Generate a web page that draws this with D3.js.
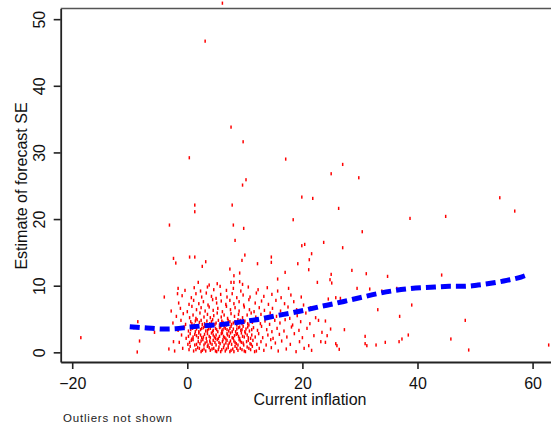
<!DOCTYPE html>
<html lang="en">
<head>
    <meta charset="UTF-8">
    <title>Forecast SE vs current inflation</title>
    <style>
        body { margin: 0; background: #fff; }
        svg { display: block; font-family: "Liberation Sans", Arial, sans-serif; }
        .axis path, .axis line { stroke: #222; }
        .axis text { fill: #111; font-size: 16px; }
    </style>
</head>
<body>
    <svg id="chart" width="551" height="425"></svg>

    <script src="https://d3js.org/d3.v7.min.js"></script>
    <script>
        // tick labels
        const xTicks = [-20, 0, 20, 40, 60];
        const yTicks = [0, 10, 20, 30, 40, 50];

        // scattered points read one by one [inflation, SE]
        const outerPoints = [
            [6.1,52.4],[3.1,46.7],[7.6,33.8],[9.7,31.6],[0.35,29.2],[17.1,29.0],[27.0,28.2],
            [25.0,26.8],[29.8,26.2],[10.2,25.9],[9.6,25.1],[19.9,23.3],[21.8,23.1],[1.3,22.1],
            [7.8,22.1],[26.3,21.6],[1.3,21.1],[54.3,23.2],[56.9,21.2],[44.9,20.4],[38.7,20.1],
            [30.4,18.1],[23.7,16.5],[27.0,15.7],[28.6,12.3],[25.0,11.7],[31.1,11.8],[34.8,11.4],
            [44.2,11.6],[24.8,10.9],[25.1,10.4],[29.5,9.6],[31.7,9.5],[36.4,9.6],[33.8,9.2],
            [39.0,9.7],[24.5,8.0],[25.8,8.2],[26.6,8.1],[39.0,7.1],[33.1,6.4],[36.9,5.4],
            [48.3,4.8],[24.0,4.7],[24.9,3.5],[27.3,3.4],[23.4,3.0],[24.3,2.5],[30.9,2.4],
            [38.4,2.6],[37.3,2.0],[45.8,2.0],[23.2,1.6],[24.0,1.5],[36.8,1.6],[34.4,1.5],
            [25.8,1.3],[30.9,1.3],[26.0,1.0],[31.2,1.0],[32.8,1.1],[26.4,0.45],[48.9,0.35],
            [62.8,1.1],[-3.1,19.1],[8.0,19.1],[9.8,18.6],[18.4,19.9],[8.3,16.8],[20.4,16.2],
            [19.9,16.0],[21.6,14.8],[-2.4,14.1],[0.4,14.3],[1.3,14.3],[10.0,14.6],[14.6,14.3],
            [-2.0,13.4],[3.2,13.6],[9.5,13.8],[14.6,13.5],[21.2,13.9],[2.6,12.9],[12.2,13.3],
            [19.2,13.3],[7.4,12.5],[21.1,12.4],[9.1,11.9],[17.0,12.0],[8.1,11.5],[15.7,11.0],
            [1.9,10.5],[7.6,10.5],[8.1,10.5],[9.1,10.6],[5.2,10.3],[3.8,10.1],[9.6,10.2],
            [22.6,10.5],[-8.6,4.6],[-18.5,2.2],[-8.3,1.7],[-8.7,0.05],[-5.7,3.0],[-9.3,3.7],
            [-4.0,8.3],[-1.6,9.6],[-1.7,8.8],[-3.2,0.5],[-2.4,1.6]
        ];

        // dense cluster [inflation, SE]
        const densePoints = [
            [0.3,0.4],[1.1,0.2],[1.8,0.7],[2.4,0.1],[2.9,0.5],[3.5,0.9],[4.0,0.3],[4.6,0.6],[5.1,0.1],[5.5,0.8],
            [6.0,0.4],[6.6,0.2],[7.1,0.7],[7.4,0.1],[7.9,0.5],[8.3,0.9],[8.8,0.3],[9.2,0.6],[9.9,0.2],[10.4,0.8],
            [11.0,0.4],[11.7,0.1],[12.5,0.6],[13.3,0.3],[14.6,0.7],[15.8,0.2],[17.2,0.5],[18.9,0.1],[20.3,0.6],[21.6,0.3],
            [-0.8,0.6],[-2.2,0.2],
            [-1.4,1.5],[0.1,1.2],[0.7,1.8],[1.3,1.1],[1.9,1.6],[2.2,1.3],[2.7,1.9],[3.1,1.4],[3.6,1.1],[3.9,1.7],
            [4.3,1.2],[4.8,1.5],[5.2,1.9],[5.7,1.3],[6.1,1.6],[6.4,1.1],[6.9,1.8],[7.3,1.4],[7.7,1.2],[8.1,1.7],
            [8.5,1.3],[9.0,1.9],[9.4,1.5],[9.8,1.1],[10.3,1.6],[10.9,1.3],[11.4,1.8],[12.1,1.2],[12.8,1.6],[13.7,1.1],
            [14.5,1.9],[15.3,1.4],[16.4,1.7],[17.9,1.2],[19.5,1.6],[21.1,1.0],
            [-1.0,2.6],[-0.2,2.1],[0.5,2.8],[1.0,2.3],[1.6,2.5],[2.0,2.9],[2.5,2.2],[3.0,2.7],[3.3,2.1],[3.8,2.4],
            [4.2,2.9],[4.7,2.3],[5.0,2.6],[5.4,2.1],[5.9,2.8],[6.3,2.4],[6.7,2.0],[7.0,2.6],[7.5,2.9],[7.8,2.2],
            [8.2,2.5],[8.7,2.8],[9.1,2.1],[9.6,2.4],[10.1,2.9],[10.6,2.2],[11.2,2.6],[11.8,2.3],[12.4,2.8],[13.1,2.2],
            [14.0,2.6],[14.9,2.1],[16.0,2.7],[17.3,2.3],[18.6,2.8],[20.0,2.2],[22.0,2.5],
            [-1.6,3.3],[-0.5,3.8],[0.2,3.2],[0.9,3.6],[1.4,3.1],[1.8,3.9],[2.3,3.4],[2.8,3.7],[3.2,3.2],[3.7,3.5],
            [4.1,3.9],[4.5,3.3],[4.9,3.6],[5.3,3.1],[5.8,3.8],[6.2,3.4],[6.6,3.6],[7.2,3.2],[7.6,3.9],[8.0,3.5],
            [8.4,3.1],[8.9,3.7],[9.3,3.3],[9.7,3.9],[10.2,3.5],[10.8,3.2],[11.5,3.7],[12.2,3.3],[12.9,3.9],[13.8,3.4],
            [14.7,3.1],[15.6,3.6],[16.8,3.2],[18.1,3.8],[19.4,3.3],[20.8,3.6],
            [-2.5,4.4],[-1.1,4.8],[-0.3,4.2],[0.6,4.6],[1.2,4.1],[1.7,4.9],[2.1,4.5],[2.6,4.2],[3.4,4.7],[3.9,4.3],
            [4.4,4.9],[5.0,4.4],[5.6,4.1],[6.0,4.7],[6.5,4.3],[7.1,4.8],[7.7,4.2],[8.3,4.6],[8.8,4.9],[9.5,4.3],
            [10.0,4.7],[10.7,4.1],[11.3,4.5],[12.0,4.9],[12.7,4.3],[13.5,4.7],[14.3,4.2],[15.2,4.8],[16.1,4.4],[17.0,4.9],
            [18.3,4.1],[19.7,4.6],[21.3,4.3],[22.8,4.8],
            [-1.9,5.4],[-0.7,5.8],[0.4,5.2],[1.0,5.6],[1.5,5.1],[2.2,5.9],[2.9,5.3],[3.5,5.7],[4.0,5.2],[4.6,5.5],
            [5.2,5.9],[5.9,5.3],[6.4,5.6],[7.0,5.1],[7.6,5.8],[8.2,5.4],[8.9,5.7],[9.6,5.2],[10.4,5.6],[11.1,5.9],
            [11.9,5.3],[12.8,5.7],[13.6,5.2],[14.4,5.9],[15.5,5.4],[16.6,5.8],[17.8,5.1],[19.1,5.5],[20.6,5.9],[22.3,5.2],
            [-2.8,6.2],[-1.2,6.6],[0.0,6.1],[0.8,6.9],[1.6,6.4],[2.4,6.7],[3.1,6.2],[3.8,6.8],[4.5,6.3],[5.3,6.6],
            [6.1,6.1],[6.8,6.9],[7.5,6.4],[8.3,6.7],[9.0,6.2],[9.9,6.8],[10.8,6.4],[11.6,6.1],[12.5,6.7],[13.4,6.3],
            [14.8,6.6],[16.2,6.2],[17.5,6.8],[19.0,6.4],[21.4,6.7],
            [-1.5,7.4],[0.3,7.2],[1.1,7.8],[2.0,7.3],[2.8,7.6],[3.6,7.1],[4.4,7.9],[5.1,7.4],[5.9,7.7],[6.7,7.2],
            [7.4,7.8],[8.1,7.3],[9.0,7.6],[9.8,7.1],[10.7,7.9],[11.8,7.4],[12.9,7.7],[14.1,7.2],[15.4,7.8],[16.9,7.3],
            [18.5,7.6],[20.2,7.1],
            [-0.9,8.5],[0.7,8.2],[1.5,8.8],[2.5,8.3],[3.3,8.9],[4.2,8.4],[5.0,8.1],[5.8,8.7],[6.9,8.3],[7.8,8.8],
            [8.6,8.2],[9.7,8.6],[10.9,8.3],[12.0,8.9],[13.3,8.4],[14.7,8.7],[16.3,8.2],[18.0,8.6],[19.8,8.3],
            [-0.4,9.3],[1.2,9.7],[2.3,9.2],[3.5,9.8],[4.6,9.4],[5.7,9.9],[6.8,9.3],[8.0,9.6],[9.3,9.2],[10.6,9.8],
            [12.3,9.4],[13.9,9.7],[15.7,9.2],[17.6,9.6],
            [0.5,0.9],[1.5,0.4],[2.1,0.6],[2.6,0.3],[3.2,0.2],[3.8,0.7],[4.3,0.5],[4.9,0.2],[5.4,0.4],[5.8,0.1],
            [6.3,0.7],[6.8,0.5],[7.6,0.3],[8.1,0.1],[8.6,0.6],[9.5,0.4],[10.1,0.1],[10.7,0.6],[11.3,0.9],[12.0,0.2],
            [0.4,1.5],[1.0,1.9],[1.6,1.2],[2.4,1.7],[2.9,1.1],[3.4,1.6],[4.0,1.4],[4.5,1.8],[5.0,1.1],[5.5,1.5],
            [6.2,1.9],[6.7,1.4],[7.1,1.1],[7.5,1.7],[8.3,1.5],[8.8,1.1],[9.2,1.7],[9.7,1.4],[10.6,1.8],[11.1,1.2],
            [0.2,2.4],[0.8,2.0],[1.3,2.7],[1.9,2.2],[2.3,2.6],[2.8,2.3],[3.5,2.8],[4.0,2.2],[4.5,2.6],[4.9,2.1],
            [5.6,2.4],[6.1,2.9],[6.5,2.2],[6.9,2.8],[7.3,2.4],[8.0,2.1],[8.5,2.7],[8.9,2.4],[9.4,2.9],[9.9,2.3],
            [10.4,2.6],[11.0,2.1],
            [0.6,3.4],[1.2,3.8],[1.6,3.5],[2.0,3.1],[2.5,3.6],[3.0,3.9],[3.5,3.3],[4.0,3.6],[4.4,3.1],[5.1,3.4],
            [5.6,3.7],[6.0,3.2],[6.4,3.8],[6.9,3.4],[7.4,3.6],[7.8,3.1],[8.6,3.5],[9.1,3.8],[9.5,3.4],[10.0,3.1],
            [10.5,3.8],[11.2,3.4],
            [0.8,4.3],[1.4,4.7],[2.4,4.8],[3.0,4.3],[3.6,4.1],[4.2,4.6],[4.8,4.2],[5.4,4.8],[6.2,4.5],[6.8,4.1],
            [7.4,4.6],[8.0,4.4],[8.6,4.1],[9.2,4.8],[9.8,4.5],[10.5,4.3]
        ];

        // smoothed fit (blue dashed)
        const smoothX = [-10, -7, -4, -2, 0, 3, 5.5, 8, 10.5, 13, 15.5, 18, 20.5, 23, 25.5, 28, 30.5,
                         33, 35.5, 38, 40.5, 43, 45.5, 48, 50.5, 53, 55.5, 58, 59];
        const smoothY = [3.85, 3.65, 3.5, 3.55, 3.75, 4.0, 4.15, 4.4, 4.7, 5.05, 5.5, 5.9, 6.35, 6.85, 7.3,
                         7.8, 8.3, 8.8, 9.2, 9.5, 9.7, 9.8, 9.9, 9.9, 10.1, 10.4, 10.8, 11.3, 11.6];

        const svg = d3.select('#chart');
        const plotLeft = 60.7, plotTop = 8.5, plotBottom = 362, plotRight = 551;

        const x = d3.scaleLinear().domain([-22, 63.2]).range([plotLeft, plotRight]);
        const y = d3.scaleLinear().domain([-1.45, 51.6]).range([plotBottom, plotTop]);

        // top border of the plot region
        svg.append('line')
            .attr('x1', plotLeft).attr('x2', plotRight)
            .attr('y1', plotTop).attr('y2', plotTop)
            .attr('stroke', '#555').attr('stroke-width', 1.5);

        // points
        const pts = outerPoints.concat(densePoints);
        svg.append('g').selectAll('rect')
            .data(pts)
            .join('rect')
            .attr('x', d => x(d[0]) - 0.75)
            .attr('y', d => y(d[1]) - 1.6)
            .attr('width', 1.5)
            .attr('height', 3.2)
            .attr('fill', '#f00');

        // smoothed line
        const line = d3.line()
            .x((d, i) => x(smoothX[i]))
            .y(d => y(d))
            .curve(d3.curveMonotoneX);

        svg.append('path')
            .datum(smoothY)
            .attr('d', line)
            .attr('fill', 'none')
            .attr('stroke', '#0000ff')
            .attr('stroke-width', 5)
            .attr('stroke-dasharray', '10,5');

        // axes
        const yAxis = svg.append('g')
            .attr('class', 'axis')
            .attr('transform', `translate(${plotLeft},0)`)
            .call(d3.axisLeft(y).tickValues(yTicks).tickSize(7).tickSizeOuter(0));
        yAxis.select('.domain').attr('stroke-width', 1.8);
        yAxis.selectAll('.tick line').attr('stroke-width', 1.6);
        yAxis.selectAll('.tick text')
            .attr('x', null).attr('dy', null)
            .attr('text-anchor', 'middle')
            .attr('transform', 'translate(-15.5,0) rotate(-90)');

        const xAxis = svg.append('g')
            .attr('class', 'axis')
            .attr('transform', `translate(0,${plotBottom})`)
            .call(d3.axisBottom(x).tickValues(xTicks).tickSize(7).tickSizeOuter(0));
        xAxis.select('.domain').attr('stroke-width', 1.8);
        xAxis.selectAll('.tick line').attr('stroke-width', 1.6);
        xAxis.selectAll('.tick text').attr('y', 27).attr('dy', null);

        // titles
        svg.append('text')
            .attr('transform', 'translate(27,186) rotate(-90)')
            .attr('text-anchor', 'middle')
            .attr('font-size', 16)
            .attr('fill', '#111')
            .text('Estimate of forecast SE');

        svg.append('text')
            .attr('x', 310).attr('y', 405)
            .attr('text-anchor', 'middle')
            .attr('font-size', 16)
            .attr('fill', '#111')
            .text('Current inflation');

        svg.append('text')
            .attr('x', 63).attr('y', 422)
            .attr('font-size', 11.5)
            .attr('letter-spacing', 0.8)
            .attr('fill', '#222')
            .text('Outliers not shown');
    </script>
</body>
</html>
